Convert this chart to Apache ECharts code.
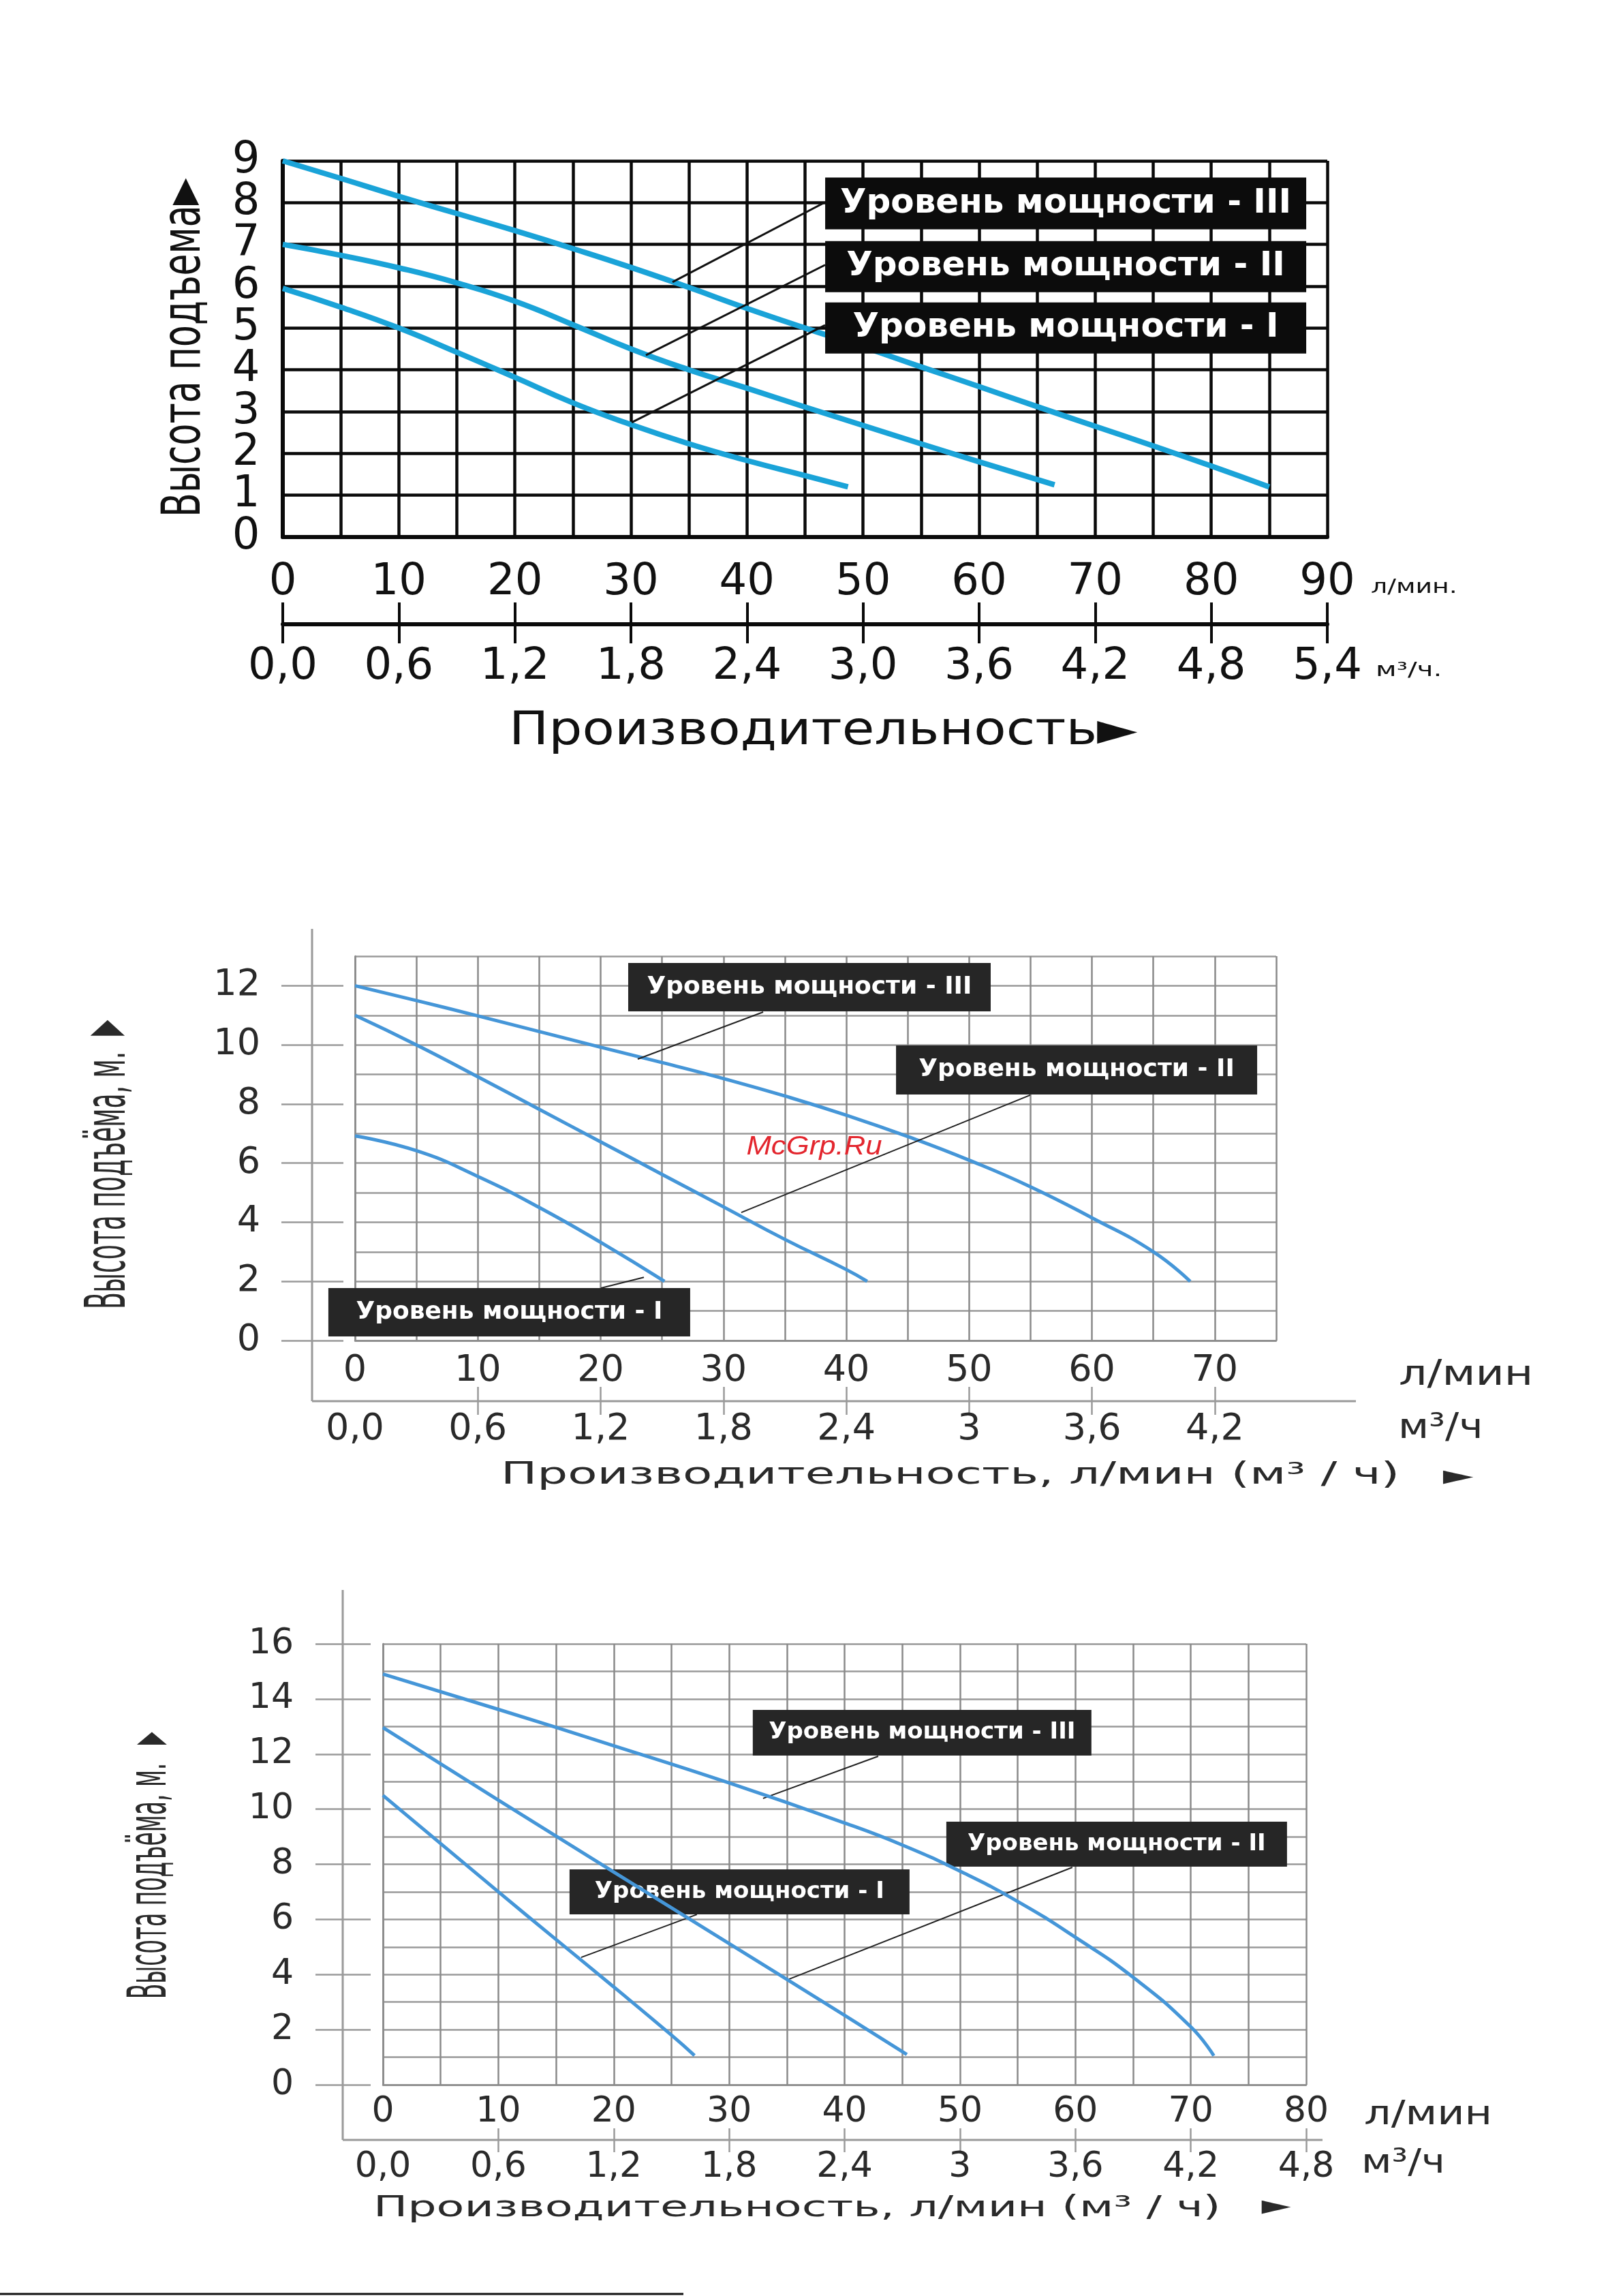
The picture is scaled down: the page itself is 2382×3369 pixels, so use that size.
<!DOCTYPE html>
<html><head><meta charset="utf-8">
<script src="https://cdn.jsdelivr.net/npm/echarts@6/dist/echarts.min.js"></script>
<style>html,body{margin:0;padding:0;background:#fff;}#main{width:2382px;height:3369px;}</style>
</head><body><div id="main"></div>
<script>
// ---------- shared ----------
const levelNames = ['Уровень мощности - I', 'Уровень мощности - II', 'Уровень мощности - III'];

// ---------- chart 1 data ----------
const c1FlowTicks = [0, 10, 20, 30, 40, 50, 60, 70, 80, 90];
const c1M3Labels = ['0,0', '0,6', '1,2', '1,8', '2,4', '3,0', '3,6', '4,2', '4,8', '5,4'];
const c1HeadEven = [0, 2, 4, 6, 8];
const c1HeadOdd = [1, 3, 5, 7, 9];
const c1Level1 = [[0,5.95],[5,5.5],[10,5.0],[15,4.42],[20,3.82],[25,3.21],[30,2.69],[35,2.23],[40,1.83],[45,1.47],[48.7,1.2]];
const c1Level2 = [[0,7.0],[5,6.74],[10,6.44],[15,6.08],[20,5.64],[25,5.08],[30,4.5],[35,4.0],[40,3.56],[45,3.11],[50,2.67],[55,2.23],[60,1.8],[66.5,1.25]];
const c1Level3 = [[0,9],[5,8.58],[10,8.15],[15,7.74],[20,7.33],[25,6.9],[30,6.45],[35,5.97],[40,5.47],[45,5.0],[50,4.55],[55,4.07],[60,3.6],[65,3.12],[70,2.65],[75,2.18],[80,1.7],[85,1.2]];

// ---------- chart 2 data ----------
const c2FlowTicks = [0, 10, 20, 30, 40, 50, 60, 70];
const c2M3Labels = ['0,0', '0,6', '1,2', '1,8', '2,4', '3', '3,6', '4,2'];
const c2HeadTicks = [0, 2, 4, 6, 8, 10, 12];
const c2Level1 = [[0,6.92],[5,6.42],[10,5.55],[15,4.5],[20,3.32],[25.2,2.0]];
const c2Level2 = [[0,11],[5,10.0],[10,8.92],[15,7.82],[20,6.72],[25,5.62],[30,4.52],[35,3.42],[40,2.4],[41.7,2.0]];
const c2Level3 = [[0,12],[5,11.5],[10,10.98],[15,10.45],[20,9.92],[25,9.4],[30,8.86],[35,8.27],[40,7.62],[45,6.9],[50,6.1],[55,5.2],[60,4.15],[65,3.0],[68,2.0]];

// ---------- chart 3 data ----------
const c3FlowTicks = [0, 10, 20, 30, 40, 50, 60, 70, 80];
const c3M3Labels = ['0,0', '0,6', '1,2', '1,8', '2,4', '3', '3,6', '4,2', '4,8'];
const c3HeadTicks = [0, 2, 4, 6, 8, 10, 12, 14, 16];
const c3Level1 = [[0,10.5],[10,7.0],[15,5.27],[20,3.55],[25,1.8],[27,1.06]];
const c3Level2 = [[0,12.96],[10,10.33],[20,7.72],[30,5.12],[40,2.52],[45.4,1.1]];
const c3Level3 = [[0,14.9],[10,13.62],[20,12.3],[30,10.95],[40,9.5],[45,8.7],[50,7.75],[55,6.65],[60,5.35],[65,3.9],[70,2.1],[72,1.05]];

// ---------- annotation placement (data coordinates) ----------
const notes = {
  c1: [
    {box:[67.46,5.0], size:[706,75], from:[46.73,5.07], to:[30.06,2.74]},
    {box:[67.46,6.47], size:[706,75], from:[46.73,6.51], to:[31.29,4.35]},
    {box:[67.46,7.98], size:[706,76], from:[46.73,8.01], to:[33.58,6.1]}
  ],
  c2: [
    {box:[12.56,0.957], size:[531,71], from:[20.03,1.775], to:[23.52,2.14]},
    {box:[58.75,9.15], size:[530,72], from:[54.97,8.30], to:[31.45,4.33]},
    {box:[37.0,11.95], size:[532,71], from:[33.23,11.11], to:[23.02,9.52]}
  ],
  c3: [
    {box:[30.9,7.0], size:[499,66], from:[27.21,6.18], to:[17.18,4.62]},
    {box:[63.58,8.73], size:[500,66], from:[59.74,7.89], to:[35.18,3.83]},
    {box:[46.72,12.77], size:[497,67], from:[42.92,11.92], to:[32.94,10.39]}
  ]
};

const FONT = 'DejaVu Sans';

function lowerFmt(ticks, labels) {
  return function (v) { const i = ticks.indexOf(Math.round(v)); return i >= 0 ? labels[i] : ''; };
}
function pickFmt(vals) {
  return function (v) { return vals.indexOf(Math.round(v)) >= 0 && Math.abs(v - Math.round(v)) < 1e-6 ? String(Math.round(v)) : ''; };
}

const grids = [
  {left:415, top:236, width:1533, height:552},
  {left:521, top:1403, width:1352, height:564},
  {left:562, top:2412, width:1355, height:647}
];

const xAxis = [
  // chart 1 main
  {type:'value', gridIndex:0, min:0, max:90, interval:5, position:'bottom',
   axisLine:{show:true, onZero:false, lineStyle:{color:'#0a0a0a', width:6}},
   axisTick:{show:false},
   splitLine:{show:true, lineStyle:{color:'#0a0a0a', width:4.5}},
   axisLabel:{show:true, customValues:c1FlowTicks, formatter:v => v % 10 === 0 ? String(v) : '',
     showMinLabel:true, showMaxLabel:true,
     margin:67, verticalAlign:'middle', fontFamily:FONT, fontSize:64, color:'#111'}},
  // chart 1 lower ticks + m3 labels
  {type:'value', gridIndex:0, min:0, max:90, interval:10, position:'bottom', offset:96,
   axisLine:{show:false, onZero:false},
   axisTick:{show:true, customValues:c1FlowTicks, length:60, lineStyle:{color:'#0a0a0a', width:4}},
   splitLine:{show:false},
   axisLabel:{show:true, customValues:c1FlowTicks, formatter:lowerFmt(c1FlowTicks, c1M3Labels),
     showMinLabel:true, showMaxLabel:true,
     margin:95, verticalAlign:'middle', fontFamily:FONT, fontSize:64, color:'#111'}},
  // chart 1 lower line
  {type:'value', gridIndex:0, min:0, max:90, position:'bottom', offset:128,
   axisLine:{show:true, onZero:false, lineStyle:{color:'#0a0a0a', width:6}},
   axisTick:{show:false}, splitLine:{show:false}, axisLabel:{show:false}},
  // chart 2 main
  {type:'value', gridIndex:1, min:0, max:75, interval:5, position:'bottom',
   axisLine:{show:true, onZero:false, lineStyle:{color:'#8a8a8a', width:2.5}},
   axisTick:{show:false},
   splitLine:{show:true, lineStyle:{color:'#8a8a8a', width:2.5}},
   axisLabel:{show:true, customValues:c2FlowTicks, formatter:v => v % 10 === 0 ? String(v) : '',
     showMinLabel:true, showMaxLabel:true,
     margin:45, verticalAlign:'middle', fontFamily:FONT, fontSize:54, color:'#2a2a2a'}},
  // chart 2 lower
  {type:'value', gridIndex:1, min:0, max:75, interval:10, position:'bottom', offset:68,
   axisLine:{show:false, onZero:false},
   axisTick:{show:true, customValues:c2FlowTicks.slice(1), length:41, lineStyle:{color:'#9a9a9a', width:2.5}},
   splitLine:{show:false},
   axisLabel:{show:true, customValues:c2FlowTicks, formatter:lowerFmt(c2FlowTicks, c2M3Labels),
     showMinLabel:true, showMaxLabel:true,
     margin:63, verticalAlign:'middle', fontFamily:FONT, fontSize:54, color:'#2a2a2a'}},
  // chart 3 main
  {type:'value', gridIndex:2, min:0, max:80, interval:5, position:'bottom',
   axisLine:{show:true, onZero:false, lineStyle:{color:'#8a8a8a', width:2.5}},
   axisTick:{show:false},
   splitLine:{show:true, lineStyle:{color:'#8a8a8a', width:2.5}},
   axisLabel:{show:true, customValues:c3FlowTicks, formatter:v => v % 10 === 0 ? String(v) : '',
     showMinLabel:true, showMaxLabel:true,
     margin:40, verticalAlign:'middle', fontFamily:FONT, fontSize:52, color:'#2a2a2a'}},
  // chart 3 lower
  {type:'value', gridIndex:2, min:0, max:80, interval:10, position:'bottom', offset:64,
   axisLine:{show:false, onZero:false},
   axisTick:{show:true, customValues:c3FlowTicks.slice(1), length:35, lineStyle:{color:'#9a9a9a', width:2.5}},
   splitLine:{show:false},
   axisLabel:{show:true, customValues:c3FlowTicks, formatter:lowerFmt(c3FlowTicks, c3M3Labels),
     showMinLabel:true, showMaxLabel:true,
     margin:57, verticalAlign:'middle', fontFamily:FONT, fontSize:52, color:'#2a2a2a'}}
];

const yAxis = [
  // chart 1 (even labels)
  {type:'value', gridIndex:0, min:0, max:9, interval:1, position:'left',
   axisLine:{show:true, onZero:false, lineStyle:{color:'#0a0a0a', width:6}},
   axisTick:{show:false},
   splitLine:{show:true, lineStyle:{color:'#0a0a0a', width:4.5}},
   axisLabel:{show:true, customValues:c1HeadEven, formatter:pickFmt(c1HeadEven), showMinLabel:true, showMaxLabel:true,
     margin:54, align:'center', verticalAlign:'middle', fontFamily:FONT, fontSize:64, color:'#111'}},
  // chart 2 grid
  {type:'value', gridIndex:1, min:0, max:13, interval:1, position:'left',
   axisLine:{show:true, onZero:false, lineStyle:{color:'#8a8a8a', width:2.5}},
   axisTick:{show:false},
   splitLine:{show:true, lineStyle:{color:'#9a9a9a', width:2.5}},
   axisLabel:{show:false}},
  // chart 2 labels
  {type:'value', gridIndex:1, min:0, max:13, interval:2, position:'left', offset:17,
   axisLine:{show:false, onZero:false},
   axisTick:{show:true, customValues:c2HeadTicks, length:91, lineStyle:{color:'#9a9a9a', width:2.5}},
   splitLine:{show:false},
   axisLabel:{show:true, customValues:c2HeadTicks, formatter:pickFmt(c2HeadTicks),
     showMinLabel:true, margin:122, fontFamily:FONT, fontSize:54, color:'#2a2a2a'}},
  // chart 3 grid
  {type:'value', gridIndex:2, min:0, max:16, interval:1, position:'left',
   axisLine:{show:true, onZero:false, lineStyle:{color:'#8a8a8a', width:2.5}},
   axisTick:{show:false},
   splitLine:{show:true, lineStyle:{color:'#9a9a9a', width:2.5}},
   axisLabel:{show:false}},
  // chart 3 labels
  {type:'value', gridIndex:2, min:0, max:16, interval:2, position:'left', offset:18,
   axisLine:{show:false, onZero:false},
   axisTick:{show:true, customValues:c3HeadTicks, length:81, lineStyle:{color:'#9a9a9a', width:2.5}},
   splitLine:{show:false},
   axisLabel:{show:true, customValues:c3HeadTicks, showMinLabel:true, showMaxLabel:true,
     margin:113, fontFamily:FONT, fontSize:52, color:'#2a2a2a'}},
  // chart 1 (odd labels)
  {type:'value', gridIndex:0, min:0, max:9, interval:1, position:'left',
   axisLine:{show:false, onZero:false}, axisTick:{show:false}, splitLine:{show:false},
   axisLabel:{show:true, customValues:c1HeadOdd, formatter:pickFmt(c1HeadOdd), showMinLabel:true, showMaxLabel:true,
     margin:54, align:'center', verticalAlign:'middle', fontFamily:FONT, fontSize:64, color:'#111'}}
];

function curveSeries(name, data, xi, yi, note, st) {
  return {
    type:'line', name, data, xAxisIndex:xi, yAxisIndex:yi, smooth:0.5, showSymbol:false,
    z:st.z, lineStyle:{color:st.color, width:st.width}, itemStyle:{color:st.color},
    markPoint:{
      silent:true, z:5, animation:false,
      data:[{coord:note.box, symbol:'rect', symbolSize:note.size,
        itemStyle:{color:st.boxColor},
        label:{show:true, position:'inside', formatter:name, color:'#ffffff',
          fontFamily:FONT, fontWeight:'bold', fontSize:st.boxFont}}]
    },
    markLine:{
      silent:true, symbol:['none','none'], animation:false, label:{show:false},
      lineStyle:{color:st.leader, width:st.leaderW, type:'solid'},
      data:[[{coord:note.from}, {coord:note.to}]]
    }
  };
}

const st1 = {color:'#1aa3d8', width:8, z:3, boxColor:'#0c0c0c', boxFont:50, leader:'#111', leaderW:3};
const st2 = {color:'#4596d8', width:5, z:3, boxColor:'#262626', boxFont:36, leader:'#222', leaderW:2};
const st3 = {color:'#4596d8', width:5, z:10, boxColor:'#262626', boxFont:34, leader:'#222', leaderW:2};

const series = [
  curveSeries(levelNames[0], c1Level1, 0, 0, notes.c1[0], st1),
  curveSeries(levelNames[1], c1Level2, 0, 0, notes.c1[1], st1),
  curveSeries(levelNames[2], c1Level3, 0, 0, notes.c1[2], st1),
  curveSeries(levelNames[0], c2Level1, 3, 1, notes.c2[0], st2),
  curveSeries(levelNames[1], c2Level2, 3, 1, notes.c2[1], st2),
  curveSeries(levelNames[2], c2Level3, 3, 1, notes.c2[2], st2),
  curveSeries(levelNames[0], c3Level1, 5, 3, notes.c3[0], st3),
  curveSeries(levelNames[1], c3Level2, 5, 3, notes.c3[1], st3),
  curveSeries(levelNames[2], c3Level3, 5, 3, notes.c3[2], st3)
];

function txt(text, x, y, o) {
  return {type:'text', x, y, rotation:o.rot || 0, scaleX:o.sx || 1, scaleY:o.sy || 1, z:50, silent:true,
    style:{text, fontFamily:o.ff || FONT, fontSize:o.fs, fontWeight:o.fw || 'normal', fontStyle:o.fst || 'normal',
      fill:o.color || '#222', align:o.align || 'left', verticalAlign:'middle',
      textAlign:o.align || 'left', textVerticalAlign:'middle'}};
}
function ln(x1, y1, x2, y2, color, w) {
  return {type:'line', z:1, silent:true, shape:{x1, y1, x2, y2}, style:{stroke:color, lineWidth:w}};
}

const graphic = [
  // chart 1 texts
  txt('Высота подъема►', 273, 510, {fs:52, rot:Math.PI/2, sy:1.5, align:'center', color:'#111'}),
  txt('Производительность►', 747, 1075, {fs:62, sx:1.25, sy:1.08, color:'#111'}),
  txt('л/мин.', 2012, 863, {fs:28, sx:1.35, color:'#111'}),
  txt('м³/ч.', 2019, 985, {fs:28, sx:1.45, color:'#111'}),
  // chart 2 frame + texts
  ln(458, 1363, 458, 2056, '#9a9a9a', 3),
  ln(458, 2056, 1990, 2056, '#9a9a9a', 3),
  txt('Высота подъёма, м.', 161, 1732, {fs:36, rot:Math.PI/2, sy:2.3, align:'center', color:'#2a2a2a'}),
  txt('▲', 158, 1508, {fs:30, sx:2.2, align:'center', color:'#2a2a2a'}),
  txt('Производительность, л/мин (м³ / ч)', 735, 2166, {fs:44, sx:1.61, color:'#2a2a2a'}),
  txt('►', 2140, 2168, {fs:40, sx:1.45, align:'center', color:'#2a2a2a'}),
  txt('л/мин', 2053, 2018, {fs:52, sx:1.25, color:'#2a2a2a'}),
  txt('м³/ч', 2052, 2096, {fs:52, sx:1.15, color:'#2a2a2a'}),
  txt('McGrp.Ru', 1195, 1683, {fs:38, sx:1.15, ff:'Liberation Sans', fst:'italic', align:'center', color:'#e3262e'}),
  // chart 3 frame + texts
  ln(503, 2333, 503, 3140, '#9a9a9a', 3),
  ln(503, 3140, 1941, 3140, '#9a9a9a', 3),
  txt('Высота подъёма, м.', 222, 2760, {fs:33, rot:Math.PI/2, sy:2.4, align:'center', color:'#2a2a2a'}),
  txt('▲', 223, 2551, {fs:24, sx:2.4, align:'center', color:'#2a2a2a'}),
  txt('Производительность, л/мин (м³ / ч)', 548, 3241, {fs:42, sx:1.59, color:'#2a2a2a'}),
  txt('►', 1873, 3239, {fs:40, sx:1.4, align:'center', color:'#2a2a2a'}),
  txt('л/мин', 2002, 3104, {fs:50, sx:1.24, color:'#2a2a2a'}),
  txt('м³/ч', 1998, 3175, {fs:50, sx:1.18, color:'#2a2a2a'}),
  // page bottom rule
  ln(0, 3366, 1003, 3366, '#111', 3)
];

const chart = echarts.init(document.getElementById('main'), null, {renderer:'canvas'});
chart.setOption({
  animation:false,
  backgroundColor:'#ffffff',
  grid:grids,
  xAxis, yAxis, series, graphic
});
</script>
</body></html>
